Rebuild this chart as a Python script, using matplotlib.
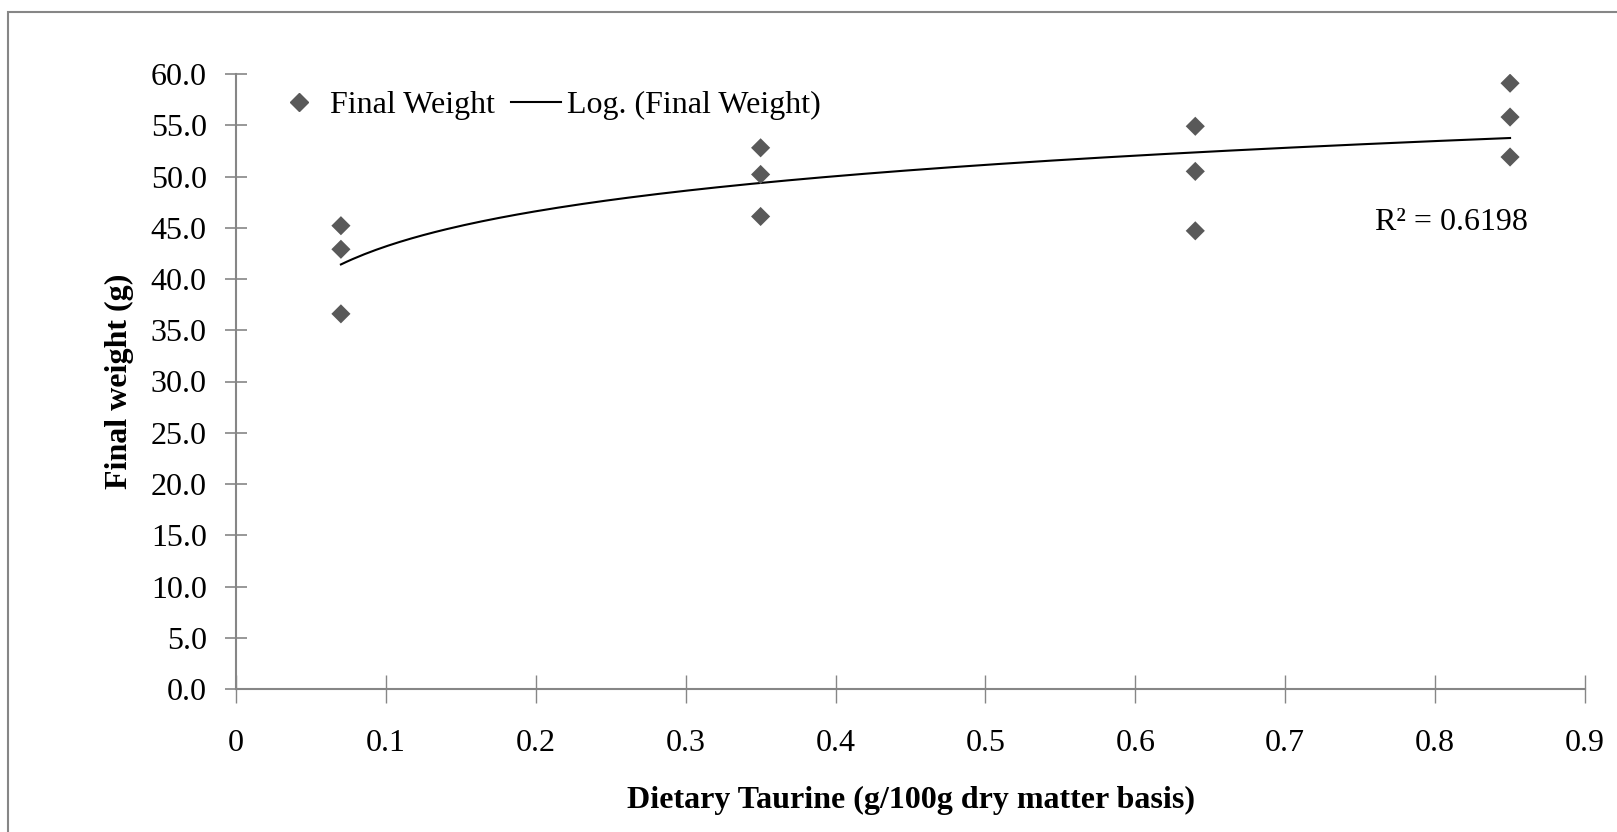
import matplotlib

matplotlib.use('Agg')
import matplotlib.pyplot as plt
import numpy as np
from matplotlib.lines import Line2D

plt.rcParams['font.family'] = ['Liberation Serif', 'DejaVu Serif']

# dietary taurine levels, three replicate tanks each
taurine = [0.07, 0.07, 0.07, 0.35, 0.35, 0.35, 0.64, 0.64, 0.64, 0.85, 0.85, 0.85]
final_weight = [45.2, 42.9, 36.6, 52.8, 50.2, 46.1, 54.9, 50.5, 44.7, 59.1, 55.8, 51.9]
r2_label = "R² = 0.6198"

x_ticks = [0, 0.1, 0.2, 0.3, 0.4, 0.5, 0.6, 0.7, 0.8, 0.9]
x_tick_labels = ["0", "0.1", "0.2", "0.3", "0.4", "0.5", "0.6", "0.7", "0.8", "0.9"]
y_ticks = np.arange(0, 60.1, 5)

AXIS_GREY = "#868686"
MARKER_GREY = "#595959"
FS = 23

W, H = 1617, 832
fig = plt.figure(figsize=(W / 100, H / 100), dpi=100)
ax = fig.add_axes([236 / W, 1 - 689 / H, (1585 - 236) / W, (689 - 74) / H])

# logarithmic trendline, like Excel's "Log." fit
x = np.array(taurine)
y = np.array(final_weight)
a, b = np.polyfit(np.log(x), y, 1)
xs = np.linspace(x.min(), x.max(), 200)
ax.plot(xs, a * np.log(xs) + b, color="black", lw=1.5, zorder=2)

ax.scatter(taurine, final_weight, marker="D", s=95, color=MARKER_GREY,
           edgecolors="none", zorder=3)

ax.set_xlim(0, 0.9)
ax.set_ylim(0, 60)
ax.set_xticks(x_ticks)
ax.set_xticklabels(x_tick_labels)
ax.set_yticks(y_ticks)
ax.set_yticklabels([f"{v:.1f}" for v in y_ticks])

for side in ("top", "right"):
    ax.spines[side].set_visible(False)
for side in ("left", "bottom"):
    ax.spines[side].set_color(AXIS_GREY)
    ax.spines[side].set_linewidth(1.5)

ax.tick_params(axis="y", direction="inout", length=16, width=1.2,
               color=AXIS_GREY, labelsize=FS, pad=13)
ax.tick_params(axis="x", direction="inout", length=20, width=1.0,
               color=AXIS_GREY, labelsize=FS, pad=19)

ax.set_xlabel("Dietary Taurine (g/100g dry matter basis)", fontsize=FS,
              fontweight="bold", labelpad=20)
ax.set_ylabel("Final weight (g)", fontsize=FS, fontweight="bold", labelpad=12)

ax.text(0.862, 45.5, r2_label, fontsize=FS, ha="right", va="center")

handles = [
    Line2D([], [], marker="D", color=MARKER_GREY, ls="none", markersize=9),
    Line2D([], [], color="black", lw=1.5),
]
ax.legend(handles, ["Final Weight", "Log. (Final Weight)"], loc="upper left",
          bbox_to_anchor=(0.007, 1.02), ncol=2, frameon=False, fontsize=FS,
          handlelength=1.55, handletextpad=0.2, columnspacing=0.5)

# chart-area frame (Excel style), only top and left show in the crop
fig.add_artist(plt.Rectangle((8 / W, -0.1), 1.2, 1 - 12 / H + 0.1,
                             transform=fig.transFigure, fill=False,
                             edgecolor=AXIS_GREY, lw=1.5))

fig.savefig("out.png", dpi=100)
